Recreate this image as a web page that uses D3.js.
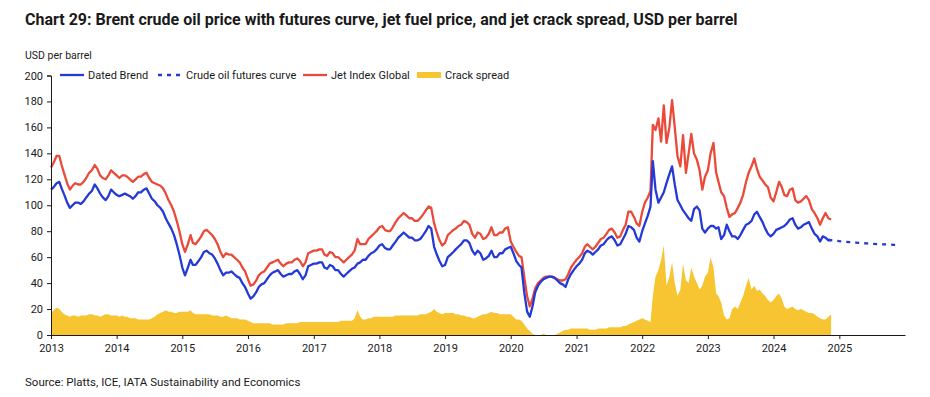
<!DOCTYPE html>
<html>
<head>
<meta charset="utf-8">
<script src="https://cdn.jsdelivr.net/npm/d3@7"></script>
<style>
  body { margin: 0; background: #fff; }
  svg text { font-family: Roboto, "Open Sans", sans-serif; fill: #1a1a1a; }
  .axis path, .axis line { stroke: #1a1a1a; }
</style>
</head>
<body>
<div id="chart"></div>
<script>
const w = 930;
const h = 397;

// semi-monthly observations (1st and 16th of each month), Jan 2013 .. mid Nov 2024
const brent = [
  112,114,117,118,113,108,102,98,100,102,102,101,103,106,109,111,116,113,109,106,104,107,112,110, // 2013
  108,107,108,109,108,107,105,107,110,110,112,113,109,105,103,100,98,95,90,86,82,77,70,62,      // 2014
  52,46,52,58,54,54,57,60,64,65,63,62,59,55,50,46,48,48,49,47,45,44,40,37,                      // 2015
  32,28,30,33,37,39,40,43,46,48,49,50,47,45,46,47,47,49,50,47,43,46,53,54,                      // 2016
  55,55,56,56,52,51,54,53,50,50,47,45,47,49,51,52,55,56,58,58,61,63,64,66,                      // 2017
  69,70,67,66,66,69,72,75,77,79,77,75,75,73,73,74,77,80,84,82,68,62,57,53,                      // 2018
  54,60,62,64,66,68,70,73,73,71,65,62,65,63,58,59,61,65,60,60,63,63,66,67,                      // 2019
  68,63,57,54,52,33,18,14,22,33,38,41,43,44,45,45,44,42,40,39,37,43,47,50,                      // 2020
  53,55,58,63,65,64,62,64,66,69,70,73,75,76,73,69,70,74,78,84,83,81,75,72,                      // 2021
  80,86,92,99,134,112,102,106,110,117,124,130,116,104,100,96,93,90,88,97,99,96,82,79,           // 2022
  82,84,84,82,83,74,77,85,80,76,76,74,77,81,85,86,88,93,95,91,87,82,78,76,                      // 2023
  78,81,82,83,84,86,89,90,85,82,83,85,86,87,82,78,76,72,76,75,73,73                             // 2024
];

const jet = [
  129,133,138,138,131,124,117,112,115,117,116,116,118,121,125,127,131,128,123,121,120,123,127,125, // 2013
  123,121,123,123,122,120,118,120,122,122,124,125,121,118,117,116,115,113,109,104,100,95,88,80,    // 2014
  70,64,70,77,71,70,73,76,80,81,79,77,74,70,64,60,63,62,62,60,58,56,52,49,                         // 2015
  43,38,39,42,46,48,49,52,55,56,57,58,55,53,55,56,56,58,59,57,53,56,63,64,                         // 2016
  65,65,66,66,62,61,64,63,60,60,58,56,58,60,62,65,74,70,70,70,74,76,78,80,                         // 2017
  83,84,81,80,80,83,87,90,92,94,92,90,90,88,88,90,93,96,99,98,86,79,73,69,                         // 2018
  71,77,79,81,82,84,85,88,87,85,78,75,79,78,74,75,78,83,77,77,79,79,82,83,                         // 2019
  72,68,64,61,60,45,30,22,28,36,40,42,44,45,45,45,44,43,42,42,43,47,52,55,                         // 2020
  58,60,63,68,70,68,66,68,71,74,75,78,81,82,79,75,76,81,85,95,95,91,86,84,                         // 2021
  95,102,106,111,162,158,167,149,177,148,160,181,160,138,130,154,125,140,155,140,135,127,112,122,  // 2022
  127,140,148,125,118,110,107,98,91,93,94,98,102,108,118,125,130,136,128,122,119,116,114,106,      // 2023
  103,110,118,114,108,107,112,113,104,102,103,105,107,104,97,94,90,85,90,94,90,89                  // 2024
];

const crack = [
  17,19,21,20,18,16,15,14,15,15,14,15,15,15,16,16,15,15,14,15,16,16,15,15, // 2013
  15,14,15,14,14,13,13,13,12,12,12,12,12,13,14,16,17,18,19,18,18,17,17,18, // 2014
  18,18,18,19,17,16,16,16,16,16,16,15,15,15,14,14,15,14,13,13,13,12,12,12, // 2015
  11,10,9,9,9,9,9,9,9,8,8,8,8,8,9,9,9,9,9,10,10,10,10,10,                  // 2016
  10,10,10,10,10,10,10,10,10,10,11,11,11,11,11,13,19,14,12,12,13,13,14,14, // 2017
  14,14,14,14,14,14,15,15,15,15,15,15,15,15,15,16,16,16,17,18,20,18,17,16, // 2018
  17,17,17,17,16,16,15,15,14,14,13,13,14,15,16,16,17,18,17,17,16,16,16,16, // 2019
  16,14,12,12,11,8,5,3,1,0,0,0,1,0,0,0,0,1,2,3,4,4,5,5,                    // 2020
  5,5,5,5,5,4,4,4,5,5,5,5,6,6,6,6,6,7,7,8,9,10,11,12,                      // 2021
  13,12,11,10,30,45,50,58,69,38,45,56,40,30,35,55,42,40,52,45,40,35,38,45, // 2022
  48,60,52,32,30,25,15,12,13,20,22,20,25,30,38,44,35,38,34,35,32,30,27,25, // 2023
  27,30,32,28,22,20,21,22,20,19,20,19,18,17,17,16,14,13,12,12,14,16        // 2024
];

// futures curve, monthly Nov 2024 .. Dec 2025
const futuresMonths = ["2024-11","2024-12","2025-01","2025-02","2025-03","2025-04","2025-05",
                       "2025-06","2025-07","2025-08","2025-09","2025-10","2025-11","2025-12"];
const futures = [73.5,72.8,72.3,71.9,71.5,71.2,70.9,70.6,70.3,70.1,69.9,69.7,69.5,69.4];

const yTicks = [0,20,40,60,80,100,120,140,160,180,200];
const xYears = [2013,2014,2015,2016,2017,2018,2019,2020,2021,2022,2023,2024,2025];

const legendItems = [
  {label: "Dated Brend", type: "line", color: "#2439d6", x: 60},
  {label: "Crude oil futures curve", type: "dash", color: "#2439d6", x: 158},
  {label: "Jet Index Global", type: "line", color: "#ea4a39", x: 303},
  {label: "Crack spread", type: "rect", color: "#f7c532", x: 417}
];

const halfMonth = i => new Date(2013 + Math.floor(i / 24), Math.floor((i % 24) / 2), (i % 2) ? 16 : 1);
const parseMonth = d3.timeParse("%Y-%m");

const svg = d3.select("#chart").append("svg").attr("width", w).attr("height", h);

const xScale = d3.scaleTime()
  .domain([new Date(2013, 0, 1), new Date(2026, 0, 1)])
  .range([51, 905]);
const yScale = d3.scaleLinear().domain([0, 200]).range([335, 75.5]);

// title and labels
svg.append("text").attr("x", 25).attr("y", 25)
  .style("font-size", "16px").style("font-weight", "bold")
  .text("Chart 29: Brent crude oil price with futures curve, jet fuel price, and jet crack spread, USD per barrel");
svg.append("text").attr("x", 25).attr("y", 59).style("font-size", "10.5px").text("USD per barrel");
svg.append("text").attr("x", 25).attr("y", 386).style("font-size", "11.5px")
  .text("Source: Platts, ICE, IATA Sustainability and Economics");

// crack spread area
svg.append("path")
  .datum(crack)
  .attr("fill", "#f7c532")
  .attr("d", d3.area()
    .x((d, i) => xScale(halfMonth(i)))
    .y0(yScale(0))
    .y1(d => yScale(d)));

// lines
const line = d3.line().x((d, i) => xScale(halfMonth(i))).y(d => yScale(d));

svg.append("path").datum(jet)
  .attr("fill", "none").attr("stroke", "#ea4a39").attr("stroke-width", 2.3)
  .attr("stroke-linejoin", "round").attr("d", line);

svg.append("path").datum(brent)
  .attr("fill", "none").attr("stroke", "#2439d6").attr("stroke-width", 2.3)
  .attr("stroke-linejoin", "round").attr("d", line);

svg.append("path").datum(futures)
  .attr("fill", "none").attr("stroke", "#2439d6").attr("stroke-width", 2.3)
  .attr("stroke-dasharray", "4,5")
  .attr("d", d3.line().x((d, i) => xScale(parseMonth(futuresMonths[i]))).y(d => yScale(d)));

// axes
const yAxis = d3.axisLeft(yScale).tickValues(yTicks).tickSize(4).tickPadding(4);
svg.append("g").attr("class", "axis")
  .attr("transform", "translate(51,0)")
  .call(yAxis)
  .call(g => g.selectAll("text").style("font-size", "11px"));

const xAxis = d3.axisBottom(xScale)
  .tickValues(xYears.map(y => new Date(y, 0, 1)))
  .tickFormat(d3.timeFormat("%Y"))
  .tickSize(4).tickSizeOuter(0).tickPadding(5);
svg.append("g").attr("class", "axis")
  .attr("transform", "translate(0,335)")
  .call(xAxis)
  .call(g => g.selectAll("text").style("font-size", "11px"));

// legend
const lg = svg.append("g").attr("transform", "translate(0,75)");
legendItems.forEach(it => {
  if (it.type === "rect") {
    lg.append("rect").attr("x", it.x).attr("y", -3).attr("width", 24).attr("height", 6).attr("fill", it.color);
  } else {
    lg.append("line").attr("x1", it.x).attr("x2", it.x + 24).attr("y1", 0).attr("y2", 0)
      .attr("stroke", it.color).attr("stroke-width", 2.3)
      .attr("stroke-dasharray", it.type === "dash" ? "4,5" : null);
  }
  lg.append("text").attr("x", it.x + 28).attr("y", 4).style("font-size", "11px").text(it.label);
});
</script>
</body>
</html>
